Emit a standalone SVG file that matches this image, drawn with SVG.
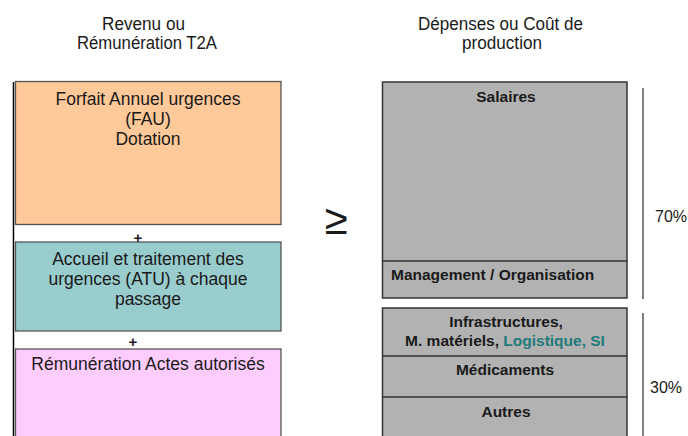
<svg xmlns="http://www.w3.org/2000/svg" width="688" height="436" viewBox="0 0 688 436">
<style>
.t{font-family:"Liberation Sans",Arial,sans-serif;fill:#1a1a1a}
.title{font-size:17.5px}
.box{font-size:17.5px}
.b{font-size:15.5px;font-weight:bold}
.pct{font-size:16px}
.lbox{stroke:#555;stroke-width:1.3}
.rbox{fill:#b2b2b2;stroke:#333;stroke-width:1.5}
.div{stroke:#333;stroke-width:1.3}
.vline{stroke:#808080;stroke-width:2}
</style>
<rect width="688" height="436" fill="#fff"/>
<g id="titles">
<text class="t title" text-anchor="middle" x="143.5" y="29.5" textLength="83" lengthAdjust="spacingAndGlyphs">Revenu ou</text>
<text class="t title" text-anchor="middle" x="147" y="48.5" textLength="140" lengthAdjust="spacingAndGlyphs">Rémunération T2A</text>
<text class="t title" text-anchor="middle" x="500.5" y="29.5" textLength="165" lengthAdjust="spacingAndGlyphs">Dépenses ou Coût de</text>
<text class="t title" text-anchor="middle" x="502" y="48.5" textLength="80" lengthAdjust="spacingAndGlyphs">production</text>
</g>
<g id="frame">
<line x1="13.5" y1="82" x2="13.5" y2="436" stroke="#000" stroke-width="1.5"/>
</g>
<g id="fau">
<rect class="lbox" x="15.5" y="81.5" width="265.5" height="143" fill="#ffc999"/>
<text class="t box" text-anchor="middle" x="148" y="105">Forfait Annuel urgences</text>
<text class="t box" text-anchor="middle" x="148" y="125">(FAU)</text>
<text class="t box" text-anchor="middle" x="148" y="145">Dotation</text>
</g>
<g id="plus1"><text class="t" style="font-size:15px;font-weight:bold" text-anchor="middle" x="138" y="243">+</text></g>
<g id="atu">
<rect class="lbox" x="15.5" y="242" width="265.5" height="89" fill="#99cccc"/>
<text class="t box" text-anchor="middle" x="148" y="265">Accueil et traitement des</text>
<text class="t box" text-anchor="middle" x="148" y="285">urgences (ATU) à chaque</text>
<text class="t box" text-anchor="middle" x="148" y="305">passage</text>
</g>
<g id="plus2"><text class="t" style="font-size:15px;font-weight:bold" text-anchor="middle" x="133" y="347">+</text></g>
<g id="actes">
<rect class="lbox" x="15.5" y="349" width="265.5" height="100" fill="#ffccff"/>
<text class="t box" text-anchor="middle" x="148" y="370">Rémunération Actes autorisés</text>
</g>
<g id="geq"><text class="t" style="font-size:42px" text-anchor="middle" x="336" y="234">≥</text></g>
<g id="salaires">
<rect class="rbox" x="382.5" y="82" width="244.5" height="216"/>
<line class="div" x1="382.5" y1="261" x2="627" y2="261"/>
<text class="t b" text-anchor="middle" x="506" y="102">Salaires</text>
<text class="t b" x="391" y="280">Management / Organisation</text>
</g>
<g id="autres">
<rect class="rbox" x="382.5" y="308" width="244.5" height="140"/>
<line class="div" x1="382.5" y1="356" x2="627" y2="356"/>
<line class="div" x1="382.5" y1="397" x2="627" y2="397"/>
<text class="t b" text-anchor="middle" x="506" y="327">Infrastructures,</text>
<text class="t b" text-anchor="middle" x="505" y="346">M. matériels, <tspan fill="#1f7a7a">Logistique, SI</tspan></text>
<text class="t b" text-anchor="middle" x="505" y="375">Médicaments</text>
<text class="t b" text-anchor="middle" x="506" y="417">Autres</text>
</g>
<g id="connectors">
<line class="vline" x1="643" y1="88" x2="643" y2="299"/>
<line class="vline" x1="643" y1="313" x2="643" y2="436"/>
</g>
<g id="percent">
<text class="t pct" x="655" y="222">70%</text>
<text class="t pct" x="650" y="393">30%</text>
</g>
</svg>
